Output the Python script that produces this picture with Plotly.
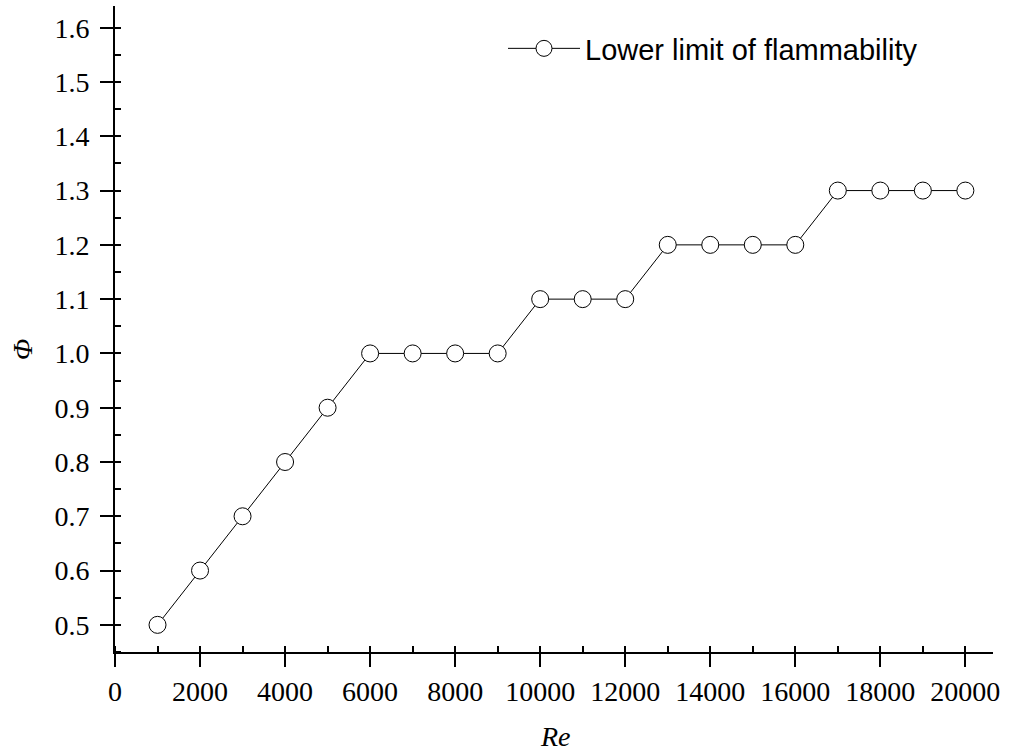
import plotly.graph_objects as go

re_values = [1000, 2000, 3000, 4000, 5000, 6000, 7000, 8000, 9000, 10000,
             11000, 12000, 13000, 14000, 15000, 16000, 17000, 18000, 19000, 20000]
phi_values = [0.5, 0.6, 0.7, 0.8, 0.9, 1.0, 1.0, 1.0, 1.0, 1.1,
              1.1, 1.1, 1.2, 1.2, 1.2, 1.2, 1.3, 1.3, 1.3, 1.3]
series_name = "Lower limit of flammability"
x_ticks = list(range(0, 20001, 2000))
y_ticks = [0.5, 0.6, 0.7, 0.8, 0.9, 1.0, 1.1, 1.2, 1.3, 1.4, 1.5, 1.6]

fig = go.Figure()
fig.add_trace(go.Scatter(
    x=re_values, y=phi_values, mode="lines+markers", name=series_name,
    line=dict(color="black", width=1),
    marker=dict(symbol="circle", size=17, color="white",
                line=dict(color="black", width=1)),
))

axis_font = dict(family="Liberation Serif, Times New Roman, serif", size=28, color="black")

fig.update_layout(
    width=1018, height=754,
    margin=dict(l=115, r=25, t=6, b=102),
    paper_bgcolor="white", plot_bgcolor="white",
    showlegend=True,
    legend=dict(x=(503 - 115) / 878, y=(652 - 23) / 646, xanchor="left", yanchor="top",
                bgcolor="rgba(0,0,0,0)", itemwidth=72,
                font=dict(family="Liberation Sans, Arial, sans-serif", size=29, color="black")),
    xaxis=dict(range=[0, 20650], tickvals=x_ticks, ticktext=[str(v) for v in x_ticks],
               showgrid=False, zeroline=False, showline=True, linecolor="black", linewidth=2,
               ticks="outside", ticklen=13, tickwidth=2, tickcolor="black",
               tickfont=axis_font,
               minor=dict(ticks="inside", dtick=1000, ticklen=6, tickwidth=2, tickcolor="black", showgrid=False)),
    yaxis=dict(range=[0.45, 1.64], tickvals=y_ticks, ticktext=[f"{v:.1f}" for v in y_ticks],
               showgrid=False, zeroline=False, showline=True, linecolor="black", linewidth=2,
               ticks="outside", ticklen=13, tickwidth=2, tickcolor="black",
               tickfont=axis_font, ticklabelstandoff=5,
               minor=dict(ticks="inside", dtick=0.05, ticklen=6, tickwidth=2, tickcolor="black", showgrid=False)),
    annotations=[
        dict(text="<i>Re</i>", xref="paper", yref="paper",
             x=(555 - 115) / 878, y=-(736 - 652) / 646, xanchor="center", yanchor="middle",
             showarrow=False, font=dict(family="Liberation Serif, Times New Roman, serif", size=28, color="black")),
        dict(text="<i>Φ</i>", xref="paper", yref="paper",
             x=-(115 - 23) / 878, y=(652 - 350) / 646, xanchor="center", yanchor="middle",
             showarrow=False, textangle=-90,
             font=dict(family="Liberation Serif, Times New Roman, serif", size=28, color="black")),
    ],
)

fig.write_html("out.html")
